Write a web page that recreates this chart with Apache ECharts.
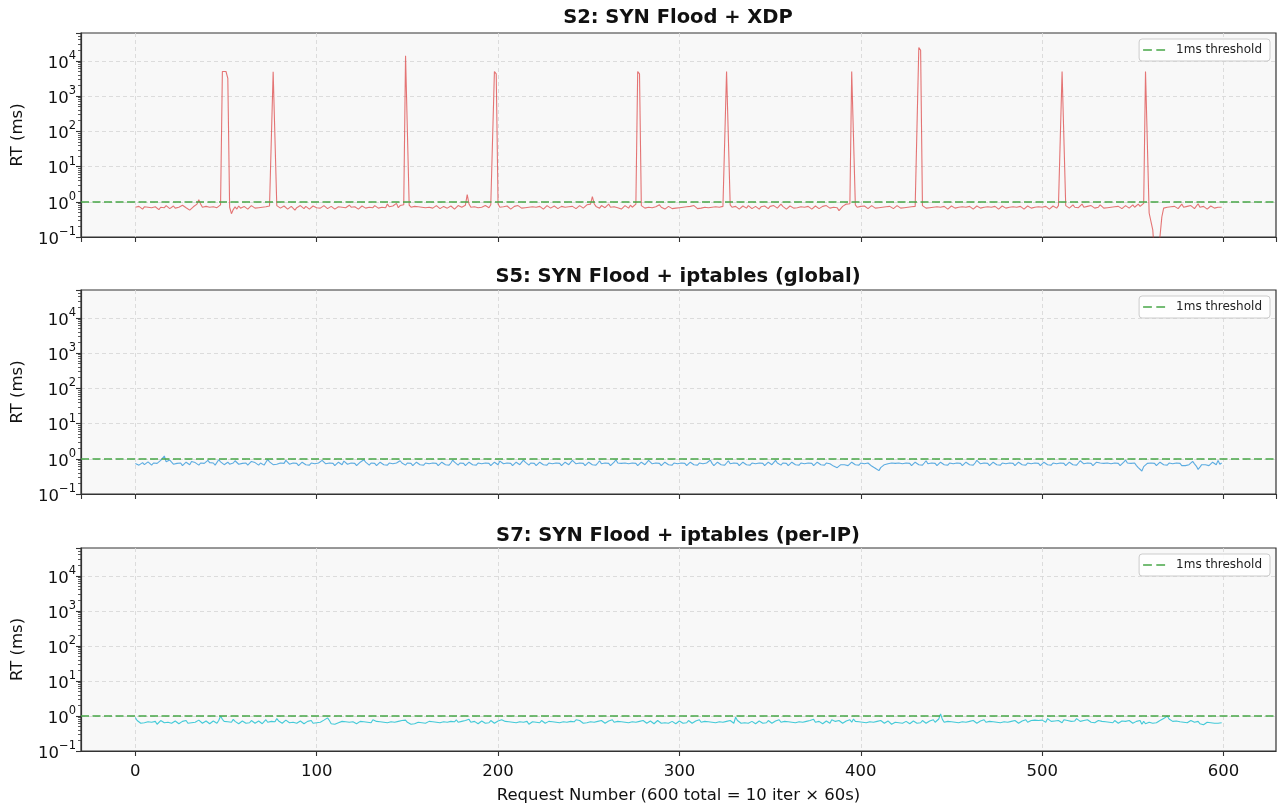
<!DOCTYPE html>
<html>
<head>
<meta charset="utf-8">
<script src="https://cdn.jsdelivr.net/npm/echarts@6/dist/echarts.min.js"></script>
<style>html,body{margin:0;padding:0;background:#fff}#main{width:1279px;height:805px}</style>
</head>
<body>
<div id="main"></div>
<script>
var titles = ['S2: SYN Flood + XDP', 'S5: SYN Flood + iptables (global)', 'S7: SYN Flood + iptables (per-IP)'];
var threshold = 1; // 1ms

// response time per request (ms), request 0..599
var rtS2 = [
0.70,0.66,0.74,0.68,0.62,0.72,0.78,0.70,0.64,0.68,0.76,0.72,0.66,0.60,0.70,0.74,0.68,0.78,0.72,0.64,
0.70,0.76,0.66,0.62,0.70,0.74,0.80,0.72,0.68,0.64,0.58,0.66,0.72,0.76,0.86,1.15,0.86,0.70,0.66,0.74,
0.78,0.70,0.64,0.72,0.76,0.68,0.74,0.82,5000,5000,5000,3200,0.70,0.46,0.60,0.72,0.62,0.76,0.66,0.70,
0.74,0.68,0.62,0.70,0.78,0.72,0.66,0.60,0.68,0.74,0.70,0.64,0.72,0.66,0.76,0.74,4900,4300,0.78,0.70,
0.66,0.72,0.76,0.68,0.62,0.70,0.74,0.66,0.58,0.68,0.72,0.78,0.70,0.64,0.74,0.68,0.62,0.70,0.76,0.72,
0.68,0.74,0.66,0.70,0.78,0.72,0.64,0.68,0.74,0.70,0.62,0.66,0.72,0.76,0.70,0.64,0.68,0.74,0.80,0.70,
0.66,0.72,0.68,0.62,0.70,0.76,0.72,0.66,0.74,0.70,0.64,0.68,0.78,0.72,0.66,0.60,0.70,0.74,0.68,0.86,
0.72,0.66,0.76,0.70,0.90,0.68,0.78,0.72,0.82,14000,12500,0.80,0.70,0.66,0.74,0.68,0.72,0.64,0.70,0.76,
0.68,0.62,0.70,0.74,0.66,0.72,0.78,0.70,0.64,0.68,0.74,0.70,0.66,0.72,0.76,0.68,0.62,0.70,0.78,0.74,
0.70,0.66,0.80,1.60,0.86,0.70,0.64,0.72,0.76,0.68,0.74,0.70,0.66,0.78,0.72,0.68,0.82,0.74,5000,4300,
0.86,0.70,0.64,0.72,0.68,0.76,0.70,0.62,0.66,0.74,0.70,0.78,0.72,0.66,0.60,0.68,0.74,0.70,0.64,0.72,
0.76,0.70,0.66,0.74,0.68,0.62,0.70,0.78,0.72,0.66,0.70,0.76,0.68,0.64,0.72,0.74,0.66,0.70,0.78,0.72,
0.68,0.74,0.70,0.64,0.72,0.78,0.70,0.66,0.74,0.82,0.72,0.86,1.40,0.88,0.74,0.70,0.66,0.78,0.72,0.68,
0.74,0.86,0.70,0.64,0.72,0.82,0.68,0.74,0.62,0.70,0.78,0.72,0.66,0.80,0.70,0.74,0.86,5000,4300,0.78,
0.72,0.66,0.74,0.70,0.78,0.68,0.64,0.72,0.76,0.82,0.70,0.66,0.62,0.68,0.74,0.70,0.64,0.58,0.66,0.72,
0.68,0.62,0.70,0.76,0.72,0.66,0.74,0.68,0.78,0.70,0.64,0.72,0.66,0.60,0.70,0.74,0.68,0.76,0.70,0.66,
0.72,0.78,0.70,0.64,0.74,0.80,5000,4600,0.82,0.70,0.66,0.74,0.68,0.62,0.70,0.76,0.72,0.66,0.78,0.70,
0.64,0.68,0.74,0.70,0.62,0.72,0.66,0.76,0.70,0.64,0.74,0.68,0.78,0.72,0.66,0.70,0.86,0.74,0.68,0.62,
0.70,0.76,0.72,0.66,0.74,0.68,0.64,0.72,0.78,0.70,0.66,0.74,0.68,0.62,0.70,0.76,0.72,0.64,0.70,0.74,
0.68,0.78,0.72,0.66,0.74,0.70,0.62,0.68,0.56,0.62,0.74,0.78,0.86,0.92,0.88,5000,4500,0.82,0.70,0.66,
0.74,0.68,0.76,0.70,0.64,0.72,0.78,0.70,0.66,0.74,0.68,0.62,0.70,0.76,0.72,0.66,0.74,0.70,0.64,0.72,
0.78,0.70,0.66,0.74,0.68,0.62,0.70,0.76,0.72,0.66,0.74,0.82,24000,20000,0.78,0.70,0.66,0.74,0.68,0.76,
0.70,0.64,0.72,0.78,0.70,0.66,0.74,0.68,0.62,0.70,0.76,0.72,0.66,0.74,0.70,0.64,0.72,0.78,0.70,0.66,
0.74,0.68,0.62,0.70,0.76,0.72,0.66,0.74,0.70,0.64,0.72,0.78,0.70,0.66,0.74,0.68,0.62,0.70,0.76,0.72,
0.66,0.74,0.70,0.64,0.72,0.78,0.70,0.66,0.74,0.68,0.62,0.70,0.76,0.72,0.66,0.74,0.70,0.64,0.72,0.78,
0.70,0.66,0.74,0.68,0.62,0.70,0.76,0.72,0.66,0.78,0.74,5000,4600,0.78,0.70,0.66,0.74,0.82,0.70,0.76,
0.68,0.74,0.86,0.70,0.66,0.74,0.68,0.78,0.72,0.66,0.74,0.70,0.82,0.72,0.66,0.74,0.68,0.62,0.70,0.76,
0.72,0.66,0.74,0.70,0.64,0.72,0.78,0.70,0.66,0.74,0.82,0.70,0.78,0.86,0.74,0.82,0.90,5000,4700,0.48,
0.46,0.16,0.03,0.03,0.03,0.03,0.37,0.66,0.74,0.70,0.78,0.72,0.66,0.74,0.70,0.64,0.72,0.86,0.70,0.66,
0.74,0.68,0.78,0.70,0.64,0.72,0.88,0.70,0.66,0.74,0.68,0.62,0.70,0.76,0.72,0.66,0.74,0.70,0.64,0.70
];
var rtS5 = [
0.74,0.70,0.66,0.72,0.78,0.68,0.74,0.82,0.72,0.66,0.76,0.86,0.74,0.68,0.90,0.80,1.20,0.82,0.72,0.92,
0.80,0.70,0.66,0.74,0.68,0.76,0.64,0.70,0.80,0.74,0.68,0.84,0.92,0.78,0.70,0.66,0.76,0.68,0.74,0.84,
0.90,0.78,0.70,0.76,0.66,0.74,0.94,0.82,0.74,0.68,0.72,0.80,0.70,0.66,0.76,0.88,0.78,0.70,0.64,0.74,
0.68,0.76,0.66,0.72,0.84,0.92,0.78,0.74,0.66,0.76,0.72,0.66,0.80,0.96,0.82,0.74,0.68,0.76,0.70,0.66,
0.76,0.68,0.74,0.90,0.80,0.70,0.66,0.76,0.68,0.74,0.64,0.72,0.80,0.76,0.68,0.74,0.66,0.76,0.84,0.72,
0.66,0.76,0.68,0.90,0.80,0.72,0.66,0.76,0.68,0.74,0.64,0.72,0.80,0.76,0.68,0.86,0.76,0.70,0.66,0.76,
0.68,0.74,0.64,0.72,0.80,0.76,0.94,0.80,0.72,0.66,0.76,0.68,0.74,0.64,0.72,0.80,0.76,0.68,0.74,0.66,
0.76,0.84,0.72,0.66,0.76,0.68,0.88,0.76,0.70,0.66,0.76,0.68,0.74,0.64,0.72,0.80,0.76,0.68,0.74,0.66,
0.76,0.86,0.72,0.66,0.76,0.68,0.74,0.64,0.72,0.80,0.76,0.68,0.74,0.66,0.76,0.92,0.80,0.72,0.66,0.76,
0.68,0.74,0.64,0.72,0.80,0.76,0.68,0.74,0.66,0.76,0.84,0.72,0.66,0.76,0.68,0.74,0.64,0.72,0.80,0.76,
0.68,0.86,0.76,0.72,0.66,0.76,0.68,0.74,0.64,0.72,0.80,0.76,0.68,0.74,0.92,0.80,0.72,0.66,0.76,0.68,
0.74,0.64,0.72,0.80,0.76,0.68,0.74,0.66,0.76,0.84,0.72,0.66,0.76,0.68,0.74,0.64,0.72,0.80,0.76,0.68,
0.74,0.90,0.80,0.72,0.66,0.76,0.68,0.74,0.64,0.72,0.80,0.76,0.68,0.74,0.66,0.76,0.88,0.72,0.66,0.76,
0.68,0.74,0.64,0.72,0.80,0.94,0.76,0.68,0.74,0.66,0.76,0.84,0.72,0.66,0.76,0.68,0.74,0.64,0.72,0.80,
0.76,0.68,0.74,0.90,0.80,0.72,0.66,0.76,0.68,0.74,0.64,0.72,0.80,0.76,0.68,0.74,0.66,0.76,0.86,0.72,
0.66,0.76,0.68,0.74,0.64,0.72,0.80,0.76,0.68,0.74,0.66,0.76,0.84,0.72,0.66,0.76,0.68,0.92,0.74,0.64,
0.72,0.80,0.76,0.68,0.74,0.66,0.76,0.88,0.72,0.66,0.76,0.68,0.74,0.64,0.72,0.80,0.76,0.68,0.74,0.66,
0.76,0.84,0.72,0.66,0.76,0.68,0.74,0.64,0.72,0.80,0.76,0.68,0.74,0.90,0.76,0.72,0.66,0.76,0.68,0.74,
0.64,0.72,0.80,0.76,0.68,0.74,0.66,0.76,0.84,0.72,0.66,0.76,0.68,0.74,0.64,0.72,0.80,0.76,0.68,0.74,
0.66,0.76,0.86,0.72,0.66,0.62,0.58,0.56,0.62,0.68,0.76,0.68,0.74,0.64,0.72,0.80,0.76,0.68,0.74,0.66,
0.76,0.84,0.72,0.66,0.76,0.68,0.62,0.58,0.54,0.50,0.46,0.56,0.62,0.68,0.64,0.72,0.80,0.76,0.68,0.74,
0.66,0.76,0.84,0.72,0.66,0.76,0.68,0.74,0.64,0.72,0.80,0.76,0.68,0.74,0.66,0.76,0.88,0.72,0.66,0.76,
0.68,0.74,0.64,0.72,0.80,0.76,0.68,0.74,0.66,0.76,0.84,0.72,0.66,0.76,0.68,0.74,0.64,0.72,0.80,0.76,
0.68,0.74,0.66,0.76,0.90,0.80,0.72,0.66,0.76,0.68,0.74,0.64,0.72,0.80,0.76,0.68,0.74,0.66,0.76,0.84,
0.72,0.66,0.76,0.68,0.74,0.64,0.72,0.80,0.76,0.68,0.74,0.66,0.76,0.86,0.72,0.66,0.76,0.68,0.74,0.64,
0.72,0.80,0.76,0.68,0.74,0.66,0.76,0.84,0.72,0.66,0.76,0.68,0.74,0.64,0.72,0.80,0.76,0.68,0.74,0.66,
0.76,0.88,0.80,0.72,0.66,0.76,0.68,0.74,0.64,0.72,0.80,0.90,0.76,0.68,0.74,0.66,0.76,0.84,0.72,0.66,
0.76,0.68,0.74,0.64,0.72,0.80,0.92,0.76,0.68,0.74,0.66,0.76,0.64,0.56,0.50,0.45,0.60,0.68,0.74,0.66,
0.76,0.68,0.74,0.64,0.72,0.80,0.76,0.68,0.74,0.66,0.76,0.84,0.72,0.66,0.76,0.68,0.74,0.64,0.58,0.64,
0.58,0.68,0.76,0.84,0.72,0.62,0.50,0.58,0.68,0.76,0.68,0.74,0.64,0.72,0.80,0.76,0.68,0.90,0.70,0.76
];
var rtS7 = [
0.90,0.74,0.66,0.62,0.70,0.64,0.60,0.68,0.72,0.66,0.62,0.70,0.58,0.66,0.74,0.68,0.64,0.60,0.66,0.70,
0.62,0.68,0.72,0.66,0.60,0.64,0.70,0.66,0.74,0.62,0.68,0.64,0.58,0.66,0.70,0.76,0.68,0.62,0.66,0.72,
0.64,0.60,0.68,0.72,0.66,0.62,0.74,1.00,0.80,0.70,0.64,0.68,0.62,0.66,0.80,0.70,0.64,0.60,0.68,0.72,
0.66,0.62,0.70,0.64,0.74,0.68,0.62,0.66,0.72,0.64,0.60,0.68,0.78,0.66,0.62,0.70,0.64,0.68,0.84,0.72,
0.66,0.62,0.70,0.76,0.68,0.64,0.60,0.66,0.70,0.62,0.68,0.72,0.66,0.60,0.64,0.70,0.66,0.74,0.62,0.68,
0.64,0.58,0.66,0.70,0.76,0.82,0.88,0.74,0.60,0.56,0.58,0.62,0.64,0.66,0.70,0.64,0.68,0.62,0.66,0.72,
0.68,0.64,0.60,0.66,0.70,0.74,0.68,0.62,0.66,0.72,0.64,0.78,0.84,0.70,0.64,0.68,0.62,0.66,0.70,0.64,
0.60,0.68,0.72,0.66,0.62,0.70,0.64,0.74,0.82,0.76,0.66,0.62,0.58,0.64,0.60,0.62,0.66,0.62,0.64,0.68,
0.62,0.66,0.70,0.64,0.68,0.62,0.66,0.72,0.64,0.60,0.68,0.74,0.66,0.62,0.70,0.64,0.68,0.78,0.66,0.62,
0.70,0.64,0.74,0.68,0.80,0.66,0.62,0.70,0.64,0.60,0.68,0.72,0.66,0.62,0.70,0.64,0.74,0.68,0.62,0.66,
0.72,0.64,0.78,0.82,0.70,0.64,0.68,0.62,0.66,0.70,0.64,0.60,0.68,0.72,0.66,0.62,0.70,0.58,0.64,0.68,
0.62,0.66,0.72,0.64,0.74,0.68,0.62,0.66,0.70,0.64,0.68,0.62,0.66,0.72,0.64,0.60,0.68,0.74,0.66,0.62,
0.70,0.64,0.68,0.78,0.86,0.74,0.66,0.62,0.70,0.64,0.60,0.68,0.72,0.66,0.62,0.70,0.64,0.74,0.68,0.62,
0.66,0.72,0.64,0.78,0.66,0.62,0.70,0.64,0.68,0.62,0.66,0.70,0.64,0.60,0.68,0.72,0.66,0.62,0.70,0.64,
0.74,0.68,0.62,0.66,0.72,0.64,0.60,0.68,0.74,0.66,0.62,0.70,0.64,0.68,0.62,0.66,0.70,0.64,0.60,0.68,
0.72,0.66,0.62,0.70,0.64,0.74,0.68,0.62,0.66,0.72,0.64,0.78,0.66,0.62,0.70,0.64,0.68,0.62,0.66,0.70,
0.64,0.60,0.68,0.72,0.66,0.62,0.70,0.64,0.74,0.68,0.62,0.92,0.74,0.66,0.62,0.70,0.64,0.68,0.62,0.66,
0.70,0.64,0.60,0.68,0.72,0.66,0.62,0.70,0.64,0.74,0.68,0.62,0.66,0.72,0.64,0.78,0.66,0.62,0.70,0.64,
0.68,0.62,0.66,0.70,0.64,0.60,0.68,0.72,0.66,0.62,0.70,0.64,0.74,0.68,0.80,0.66,0.62,0.70,0.64,0.60,
0.68,0.72,0.66,0.62,0.78,0.84,0.70,0.64,0.74,0.68,0.62,0.66,0.72,0.64,0.78,0.66,0.82,0.70,0.64,0.68,
0.62,0.66,0.70,0.64,0.60,0.68,0.72,0.66,0.62,0.70,0.64,0.74,0.68,0.62,0.66,0.72,0.64,0.58,0.60,0.66,
0.70,0.64,0.68,0.62,0.66,0.70,0.64,0.60,0.68,0.72,0.66,0.62,0.70,0.64,0.74,0.68,0.62,0.66,0.72,0.64,
0.78,0.66,0.70,0.82,1.15,0.80,0.66,0.62,0.70,0.64,0.68,0.62,0.66,0.70,0.64,0.60,0.68,0.72,0.66,0.62,
0.70,0.64,0.74,0.68,0.62,0.66,0.72,0.64,0.78,0.66,0.62,0.70,0.64,0.68,0.62,0.66,0.70,0.64,0.60,0.68,
0.72,0.66,0.62,0.70,0.64,0.74,0.68,0.62,0.66,0.72,0.64,0.78,0.66,0.70,0.74,0.80,0.76,0.70,0.74,0.82,
0.76,0.70,0.66,0.84,0.74,0.70,0.78,0.72,0.66,0.74,0.70,0.64,0.78,0.70,0.74,0.66,0.70,0.78,0.72,0.84,
0.74,0.70,0.66,0.74,0.70,0.78,0.72,0.66,0.70,0.64,0.68,0.74,0.66,0.70,0.62,0.68,0.72,0.66,0.70,0.64,
0.74,0.68,0.62,0.66,0.72,0.64,0.70,0.66,0.74,0.68,0.62,0.60,0.70,0.64,0.74,0.58,0.70,0.60,0.56,0.66,
0.74,0.62,0.70,0.64,0.68,0.74,0.78,0.84,0.90,1.00,0.82,0.74,0.70,0.66,0.72,0.64,0.68,0.62,0.66,0.70,
0.64,0.68,0.74,0.70,0.66,0.62,0.70,0.60,0.58,0.56,0.60,0.66,0.70,0.64,0.68,0.62,0.66,0.62,0.60,0.64
];

var allSeries = [rtS2, rtS5, rtS7];
var lineColors = ['rgba(220,60,60,0.7)', 'rgba(52,152,219,0.8)', 'rgba(23,190,207,0.8)'];
var thrColor = 'rgba(70,165,70,0.75)';
var FONT = 'DejaVu Sans';
var gridTops = [33, 290, 548];
var legendTops = [39, 296, 554];
var titleTops = [8, 267, 526];
var dashIcon = 'path://M0,0H8V2H0Z M12,0H20V2H12Z';

function supLabel(v) {
	var lg = Math.log(v) / Math.LN10;
	var e = Math.round(lg);
	if (Math.abs(lg - e) > 1e-6) return '';
	var s = e < 0 ? '\u2212' + (-e) : '' + e;
	return '{a|10}{b|' + s + '}';
}

var option = {
	animation: false,
	backgroundColor: '#fff',
	title: [],
	legend: [],
	grid: [],
	xAxis: [],
	yAxis: [],
	series: []
};

for (var i = 0; i < 3; i++) {
	var last = (i == 2);
	option.title.push({
		text: titles[i],
		left: 678, top: titleTops[i], textAlign: 'center', padding: 0,
		textStyle: {fontFamily: FONT, fontSize: 19.5, fontWeight: 'bold', color: '#111'}
	});
	option.legend.push({
		data: [{name: '1ms threshold', icon: dashIcon}],
		right: 9, top: legendTops[i],
		orient: 'vertical',
		padding: [5, 8, 5, 4],
		itemWidth: 22, itemHeight: 2.2,
		backgroundColor: 'rgba(255,255,255,0.85)',
		borderColor: '#cccccc', borderWidth: 1, borderRadius: 3,
		textStyle: {fontFamily: FONT, fontSize: 12, color: '#222', padding: [0, 0, 0, 6]}
	});
	option.grid.push({
		left: 81, width: 1195, top: gridTops[i], height: 204,
		show: true, backgroundColor: '#f8f8f8', borderColor: '#333', borderWidth: 1.2
	});
	option.xAxis.push({
		type: 'value', gridIndex: i,
		min: -29.95, max: 628.95, splitNumber: 6,
		name: last ? 'Request Number (600 total = 10 iter \u00d7 60s)' : '',
		nameLocation: 'middle', nameGap: 36,
		nameTextStyle: {fontFamily: FONT, fontSize: 16.5, color: '#111'},
		axisLine: {show: true, onZero: false, lineStyle: {color: '#333', width: 1.2}},
		axisTick: {show: true, length: 5, lineStyle: {color: '#333', width: 1.1}},
		axisLabel: {show: last, margin: 12, showMinLabel: false, showMaxLabel: false,
			fontFamily: FONT, fontSize: 16.5, color: '#111'},
		splitLine: {show: true, showMinLine: false, showMaxLine: false,
			lineStyle: {color: '#d8d8d8', width: 0.9, type: [4, 3]}}
	});
	option.yAxis.push({
		type: 'log', logBase: 10, gridIndex: i,
		min: 0.1, max: 62000,
		name: 'RT (ms)', nameLocation: 'middle', nameGap: 55,
		nameTextStyle: {fontFamily: FONT, fontSize: 16.5, color: '#111'},
		axisLine: {show: true, onZero: false, lineStyle: {color: '#333', width: 1.2}},
		axisTick: {show: true, length: 5, lineStyle: {color: '#333', width: 1.1}},
		minorTick: {show: true, splitNumber: 9, length: 3, lineStyle: {color: '#333', width: 0.8}},
		axisLabel: {
			margin: 5, formatter: supLabel, showMaxLabel: false,
			rich: {
				a: {fontFamily: FONT, fontSize: 16.5, color: '#111', verticalAlign: 'bottom', lineHeight: 22},
				b: {fontFamily: FONT, fontSize: 11.5, color: '#111', verticalAlign: 'top', lineHeight: 13}
			}
		},
		splitLine: {show: true, showMinLine: false, showMaxLine: false,
			lineStyle: {color: '#d8d8d8', width: 0.9, type: [4, 3]}}
	});
	option.series.push({
		name: titles[i], type: 'line', xAxisIndex: i, yAxisIndex: i,
		data: allSeries[i].map(function (v, k) { return [k, v]; }),
		symbol: 'none', clip: true,
		lineStyle: {color: lineColors[i], width: 1.1},
		itemStyle: {color: lineColors[i]},
		z: 3
	});
	option.series.push({
		name: '1ms threshold', type: 'line', xAxisIndex: i, yAxisIndex: i,
		data: [], symbol: 'none',
		lineStyle: {color: thrColor, width: 2.2, type: [8, 3.5]},
		itemStyle: {color: thrColor},
		markLine: {
			silent: true, symbol: ['none', 'none'], label: {show: false},
			lineStyle: {color: thrColor, width: 2.2, type: [8, 3.5]},
			data: [{yAxis: threshold}]
		},
		z: 4
	});
}

var chart = echarts.init(document.getElementById('main'));
chart.setOption(option);
</script>
</body>
</html>
